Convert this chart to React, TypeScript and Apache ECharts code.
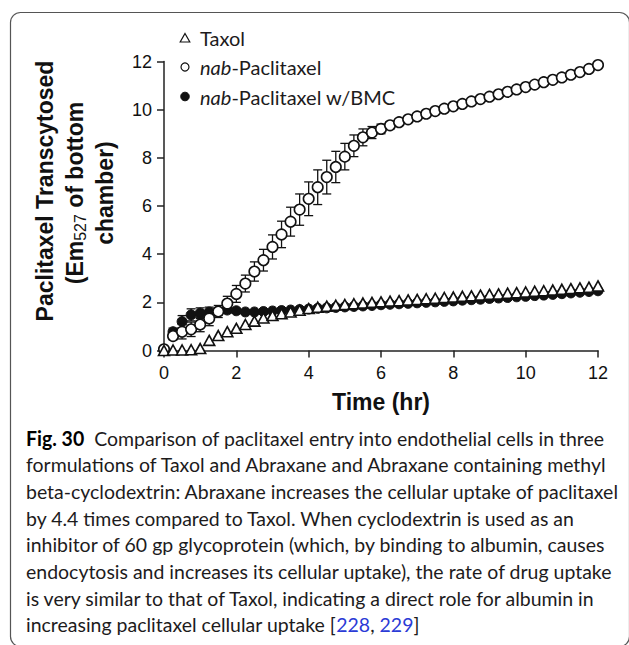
import React, { useEffect, useRef } from 'react';
import * as echarts from 'echarts';

const times = [0, 0.25, 0.5, 0.75, 1, 1.25, 1.5, 1.75, 2, 2.25, 2.5, 2.75, 3, 3.25, 3.5, 3.75, 4, 4.25, 4.5, 4.75, 5, 5.25, 5.5, 5.75, 6, 6.25, 6.5, 6.75, 7, 7.25, 7.5, 7.75, 8, 8.25, 8.5, 8.75, 9, 9.25, 9.5, 9.75, 10, 10.25, 10.5, 10.75, 11, 11.25, 11.5, 11.75, 12];

const taxol = [0, 0.02, 0.02, 0.03, 0.08, 0.42, 0.62, 0.78, 0.92, 1.08, 1.22, 1.35, 1.45, 1.53, 1.6, 1.67, 1.74, 1.8, 1.84, 1.88, 1.91, 1.94, 1.97, 2.0, 2.02, 2.05, 2.07, 2.1, 2.12, 2.15, 2.17, 2.2, 2.22, 2.25, 2.27, 2.3, 2.33, 2.35, 2.38, 2.4, 2.43, 2.46, 2.48, 2.51, 2.54, 2.57, 2.6, 2.63, 2.68];

const nab = [0.05, 0.6, 0.78, 0.88, 1.08, 1.33, 1.62, 1.95, 2.35, 2.78, 3.28, 3.75, 4.3, 4.82, 5.35, 5.85, 6.3, 6.78, 7.2, 7.62, 8.05, 8.5, 8.85, 9.05, 9.2, 9.35, 9.48, 9.6, 9.72, 9.83, 9.94, 10.04, 10.14, 10.24, 10.34, 10.44, 10.54, 10.64, 10.74, 10.84, 10.94, 11.04, 11.14, 11.24, 11.34, 11.45, 11.56, 11.69, 11.85];

const nabSD = [0, 0.15, 0.3, 0.3, 0.3, 0.3, 0.25, 0.3, 0.35, 0.35, 0.4, 0.45, 0.5, 0.55, 0.6, 0.65, 0.7, 0.72, 0.7, 0.65, 0.55, 0.45, 0.35, 0.25, 0.2, 0.15, 0.12, 0.1, 0.1, 0.1, 0.1, 0.1, 0.1, 0.1, 0.1, 0.1, 0.1, 0.1, 0.1, 0.1, 0.1, 0.1, 0.1, 0.1, 0.1, 0.1, 0.1, 0.1, 0.1];

const bmc = [0.05, 0.78, 1.2, 1.48, 1.55, 1.6, 1.62, 1.68, 1.65, 1.6, 1.6, 1.62, 1.64, 1.66, 1.68, 1.7, 1.72, 1.75, 1.77, 1.79, 1.81, 1.83, 1.85, 1.87, 1.9, 1.92, 1.94, 1.96, 1.98, 2.0, 2.02, 2.04, 2.06, 2.09, 2.11, 2.13, 2.16, 2.18, 2.2, 2.23, 2.25, 2.28, 2.3, 2.33, 2.36, 2.39, 2.42, 2.45, 2.48];

const bmcSD = [0, 0.15, 0.25, 0.25, 0.22, 0.2, 0.15, 0.12, 0.1, 0.08, 0.08, 0.06, 0.06, 0.06, 0.05, 0.05, 0.05, 0.05, 0.05, 0.05, 0.05, 0.05, 0.05, 0.05, 0.05, 0.05, 0.05, 0.05, 0.05, 0.05, 0.05, 0.05, 0.05, 0.05, 0.05, 0.05, 0.05, 0.05, 0.05, 0.05, 0.05, 0.05, 0.05, 0.05, 0.05, 0.05, 0.05, 0.05, 0.05];

const xTicks = [0, 2, 4, 6, 8, 10, 12];
const yTicks = [0, 2, 4, 6, 8, 10, 12];

const legendNames = ['Taxol', 'nab-Paclitaxel', 'nab-Paclitaxel w/BMC'];
const legendLabels = ['Taxol', '{i|nab}-Paclitaxel', '{i|nab}-Paclitaxel w/BMC'];

const yTitleLines = ['Paclitaxel Transcytosed', '(Em{s|527} of bottom', 'chamber)'];
const xTitle = 'Time (hr)';

const captionLines = [
  '{b|Fig. 30}  Comparison of paclitaxel entry into endothelial cells in three',
  'formulations of Taxol and Abraxane and Abraxane containing methyl',
  'beta-cyclodextrin: Abraxane increases the cellular uptake of paclitaxel',
  'by 4.4 times compared to Taxol. When cyclodextrin is used as an',
  'inhibitor of 60 gp glycoprotein (which, by binding to albumin, causes',
  'endocytosis and increases its cellular uptake), the rate of drug uptake',
  'is very similar to that of Taxol, indicating a direct role for albumin in',
  'increasing paclitaxel cellular uptake [{l|228}, {l|229}]',
];

const INK = '#111';
const CAP_FONT = 'Lato';

function errBars(name: string, vals: number[], sds: number[], z: number) {
  const data = times
    .map((t, i) => [t, vals[i] - sds[i], vals[i] + sds[i]])
    .filter((d, i) => sds[i] > 0);
  return {
    type: 'custom',
    name,
    z,
    data,
    encode: { x: 0, y: [1, 2] },
    renderItem: (params: any, api: any) => {
      const t = api.value(0);
      const top = api.coord([t, api.value(2)]);
      const bot = api.coord([t, api.value(1)]);
      const w = 4.5;
      const st = { stroke: INK, lineWidth: 1.3 };
      return {
        type: 'group',
        children: [
          { type: 'line', shape: { x1: top[0], y1: top[1], x2: bot[0], y2: bot[1] }, style: st },
          { type: 'line', shape: { x1: top[0] - w, y1: top[1], x2: top[0] + w, y2: top[1] }, style: st },
          { type: 'line', shape: { x1: bot[0] - w, y1: bot[1], x2: bot[0] + w, y2: bot[1] }, style: st },
        ],
      };
    },
  };
}

export default function App() {
  const ref = useRef<HTMLDivElement>(null);
  useEffect(() => {
    const chart = echarts.init(ref.current!, null, { renderer: 'svg' });

    const ctx = document.createElement('canvas').getContext('2d')!;
    ctx.font = `20px ${CAP_FONT}`;
    const w2 = ctx.measureText(captionLines[1]).width || 582;
    const k = 582 / w2;

    const captionGraphics = captionLines.map((line, i) => ({
      type: 'text',
      x: 26,
      y: 438 + i * 26.7,
      scaleX: k,
      style: {
        text: line,
        fontFamily: CAP_FONT,
        fontSize: 20,
        fill: '#1d1b1c',
        align: 'left',
        verticalAlign: 'middle',
        rich: {
          b: { fontFamily: CAP_FONT, fontSize: 20, fontWeight: 'bold', fill: '#000', color: '#000' },
          l: { fontFamily: CAP_FONT, fontSize: 20, fill: '#2b3bd6', color: '#2b3bd6' },
        },
      },
    }));

    const yTitleX = [45, 75, 105];
    const yTitleY = [191, 193, 193];
    const yTitleGraphics = yTitleLines.map((line, i) => ({
      type: 'text',
      x: yTitleX[i],
      y: yTitleY[i],
      rotation: Math.PI / 2,
      style: {
        text: line,
        fontFamily: 'Liberation Sans',
        fontSize: 23,
        fontWeight: 'bold',
        fill: INK,
        align: 'center',
        verticalAlign: 'middle',
        rich: {
          s: { fontFamily: 'Liberation Sans', fontSize: 16, fontWeight: 'normal', fill: INK, color: INK, verticalAlign: 'bottom', padding: [10, 0, 0, 0] },
        },
      },
    }));

    // custom legend (icons + labels)
    const legY = [38, 67, 96.5];
    const legX = 185;
    const legendGraphics: any[] = [
      {
        type: 'polygon',
        shape: { points: [[legX, legY[0] - 4.5], [legX + 4.8, legY[0] + 4], [legX - 4.8, legY[0] + 4]] },
        style: { fill: '#fff', stroke: INK, lineWidth: 1.2 },
      },
      { type: 'circle', shape: { cx: legX, cy: legY[1], r: 4 }, style: { fill: '#fff', stroke: INK, lineWidth: 1.2 } },
      { type: 'circle', shape: { cx: legX, cy: legY[2], r: 4.3 }, style: { fill: INK, stroke: INK, lineWidth: 1 } },
      ...legendLabels.map((lab, i) => ({
        type: 'text',
        x: 200,
        y: legY[i],
        style: {
          text: lab,
          fontFamily: CAP_FONT,
          fontSize: 20,
          fill: '#1d1b1c',
          align: 'left',
          verticalAlign: 'middle',
          rich: { i: { fontFamily: CAP_FONT, fontSize: 20, fontStyle: 'italic', fill: '#1d1b1c', color: '#1d1b1c' } },
        },
      })),
    ];

    const option: any = {
      animation: false,
      backgroundColor: '#fff',
      grid: { left: 164, right: 31, top: 61.5, bottom: 294.5 },
      xAxis: {
        type: 'value',
        min: xTicks[0],
        max: xTicks[xTicks.length - 1],
        interval: xTicks[1] - xTicks[0],
        name: xTitle,
        nameLocation: 'middle',
        nameGap: 40,
        nameTextStyle: { fontFamily: 'Liberation Sans', fontSize: 23, fontWeight: 'bold', color: INK },
        axisLine: { lineStyle: { color: '#222', width: 1.5 } },
        axisTick: { length: 7, lineStyle: { color: '#222', width: 1.5 } },
        axisLabel: { margin: 13, fontFamily: 'Liberation Sans', fontSize: 18, color: INK },
        splitLine: { show: false },
      },
      yAxis: {
        type: 'value',
        min: yTicks[0],
        max: yTicks[yTicks.length - 1],
        interval: yTicks[1] - yTicks[0],
        axisLine: { show: true, lineStyle: { color: '#222', width: 1.5 } },
        axisTick: { show: true, length: 7, lineStyle: { color: '#222', width: 1.5 } },
        axisLabel: { margin: 12, fontFamily: 'Liberation Sans', fontSize: 18, color: INK },
        splitLine: { show: false },
      },
      graphic: [
        {
          type: 'rect',
          shape: { x: 10.5, y: 12.5, width: 619, height: 634, r: 10 },
          style: { fill: 'none', stroke: '#555', lineWidth: 1.2 },
          z: -1,
        },
        ...legendGraphics,
        ...yTitleGraphics,
        ...captionGraphics,
      ],
      series: [
        errBars('bmcErr', bmc, bmcSD, 2),
        {
          type: 'scatter',
          name: legendNames[2],
          z: 3,
          symbol: 'circle',
          symbolSize: 10,
          itemStyle: { color: INK, borderColor: INK, borderWidth: 1, opacity: 1 },
          data: times.map((t, i) => [t, bmc[i]]),
        },
        errBars('nabErr', nab, nabSD, 4),
        {
          type: 'scatter',
          name: legendNames[1],
          z: 5,
          symbol: 'circle',
          symbolSize: 10.5,
          itemStyle: { color: '#fff', borderColor: INK, borderWidth: 1.6, opacity: 1 },
          data: times.map((t, i) => [t, nab[i]]),
        },
        {
          type: 'scatter',
          name: legendNames[0],
          z: 6,
          symbol: 'triangle',
          symbolSize: [11, 10],
          itemStyle: { color: '#fff', borderColor: INK, borderWidth: 1.6, opacity: 1 },
          data: times.map((t, i) => [t, taxol[i]]),
        },
      ],
    };
    chart.setOption(option);
    return () => chart.dispose();
  }, []);
  return (
    <div
      ref={ref}
      style={{ position: 'fixed', left: 0, top: 0, width: 629, height: 645, background: '#fff' }}
    />
  );
}
